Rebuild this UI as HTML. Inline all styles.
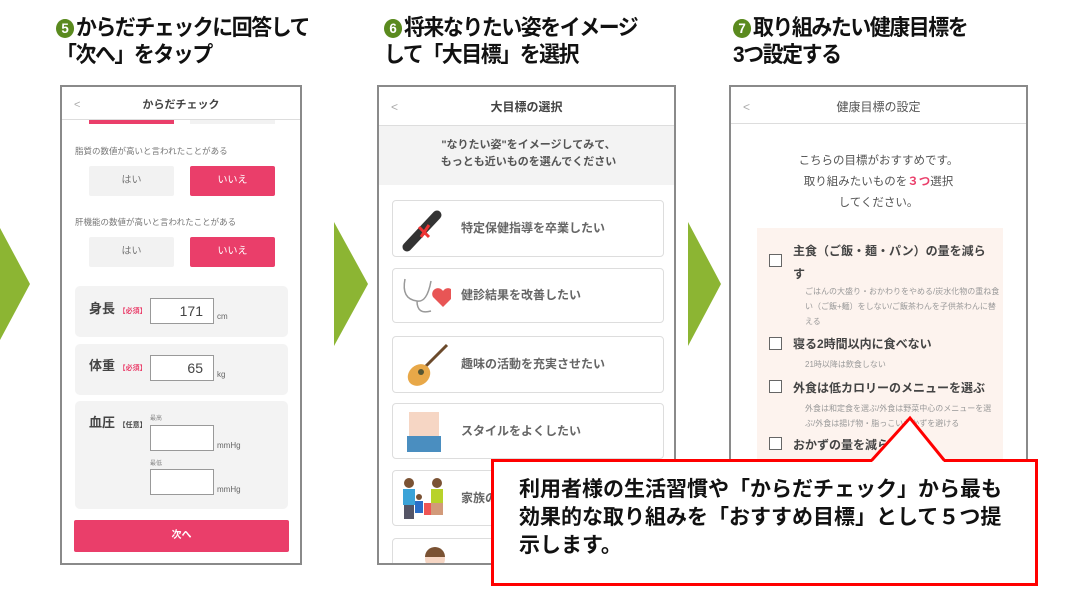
<!DOCTYPE html>
<html><head><meta charset="utf-8"><style>
*{margin:0;padding:0;box-sizing:border-box}
body{width:1075px;height:598px;background:#fff;position:relative;overflow:hidden;font-family:"Liberation Sans","Noto Sans CJK JP",sans-serif;color:#555}
.a{position:absolute}
.t{position:absolute;font-weight:bold;color:#111;font-size:22px;line-height:27px;letter-spacing:-1.5px;transform:scaleX(0.95);transform-origin:left}
.num{display:inline-block;width:19px;height:19px;border-radius:50%;background:#5a8a1e;color:#fff;font-size:14px;line-height:19px;text-align:center;letter-spacing:0;margin-right:2px;vertical-align:2px}
.ph{position:absolute;border:2px solid #8a8a8a;background:#fff;overflow:hidden}
.hd{position:absolute;left:0;right:0;top:0;border-bottom:1px solid #ddd;text-align:center;font-size:11px;color:#444;font-weight:bold}
.bk{position:absolute;left:12px;color:#aaa;font-weight:normal}
.btn{position:absolute;font-size:10px;text-align:center;border-radius:2px}
.g{background:#f2f2f2;color:#777}
.p{background:#ea3e6a;color:#fff}
.card{position:absolute;background:#f3f3f3;border-radius:5px}
.in{position:absolute;background:#fff;border:1px solid #999;font-size:14px;text-align:right;padding-right:10px;color:#444}
.gc{position:absolute;left:13px;width:272px;border:1.5px solid #ddd;border-radius:4px;background:#fff;font-size:12px;font-weight:bold;color:#666}
.gc span{position:absolute;left:68px}
.cb{position:absolute;width:13px;height:13px;border:1.5px solid #666;background:#fff}
.it{position:absolute;font-size:12px;font-weight:bold;color:#444}
.sm{position:absolute;font-size:8px;color:#999;line-height:15px}
</style></head><body>

<div class="t" style="left:56px;top:14px"><span class="num">5</span>からだチェックに回答して<br>「次へ」をタップ</div>
<div class="t" style="left:384px;top:14px"><span class="num">6</span>将来なりたい姿をイメージ<br>して「大目標」を選択</div>
<div class="t" style="left:733px;top:14px"><span class="num">7</span>取り組みたい健康目標を<br>3つ設定する</div>

<svg class="a" style="left:0;top:0" width="1075" height="598">
<polygon points="0,228 30,284 0,340" fill="#8cb533"/>
<polygon points="334,222 368,284 334,346" fill="#8cb533"/>
<polygon points="688,222 721,284 688,346" fill="#8cb533"/>
</svg>

<!-- phone 1 -->
<div class="ph" style="left:60px;top:85px;width:242px;height:480px">
 <div class="hd" style="height:33px;line-height:36px">からだチェック<span class="bk">&lt;</span></div>
 <div class="a p" style="left:27px;top:33px;width:85px;height:4px"></div>
 <div class="a g" style="left:128px;top:33px;width:85px;height:4px"></div>
 <div class="a" style="left:13px;top:58px;font-size:8.5px;color:#777">脂質の数値が高いと言われたことがある</div>
 <div class="btn g" style="left:27px;top:79px;width:85px;height:30px;line-height:30px">はい</div>
 <div class="btn p" style="left:128px;top:79px;width:85px;height:30px;line-height:30px">いいえ</div>
 <div class="a" style="left:13px;top:129px;font-size:8.5px;color:#777">肝機能の数値が高いと言われたことがある</div>
 <div class="btn g" style="left:27px;top:150px;width:85px;height:30px;line-height:30px">はい</div>
 <div class="btn p" style="left:128px;top:150px;width:85px;height:30px;line-height:30px">いいえ</div>
 <div class="card" style="left:13px;top:199px;width:213px;height:51px"></div>
 <div class="card" style="left:13px;top:257px;width:213px;height:51px"></div>
 <div class="card" style="left:13px;top:314px;width:213px;height:108px"></div>
 <div class="a" style="left:27px;top:211px;font-size:13px;font-weight:bold;color:#444">身長 <span style="font-size:7px;color:#ea3e6a">【必須】</span></div>
 <div class="in" style="left:88px;top:211px;width:64px;height:26px;line-height:24px">171</div>
 <div class="a" style="left:155px;top:225px;font-size:8px;color:#666">cm</div>
 <div class="a" style="left:27px;top:268px;font-size:13px;font-weight:bold;color:#444">体重 <span style="font-size:7px;color:#ea3e6a">【必須】</span></div>
 <div class="in" style="left:88px;top:268px;width:64px;height:26px;line-height:24px">65</div>
 <div class="a" style="left:155px;top:283px;font-size:8px;color:#666">kg</div>
 <div class="a" style="left:27px;top:325px;font-size:13px;font-weight:bold;color:#444">血圧 <span style="font-size:7px;color:#444">【任意】</span></div>
 <div class="a" style="left:88px;top:326px;font-size:6px;color:#888">最高</div>
 <div class="in" style="left:88px;top:338px;width:64px;height:26px"></div>
 <div class="a" style="left:155px;top:354px;font-size:8px;color:#666">mmHg</div>
 <div class="a" style="left:88px;top:371px;font-size:6px;color:#888">最低</div>
 <div class="in" style="left:88px;top:382px;width:64px;height:26px"></div>
 <div class="a" style="left:155px;top:398px;font-size:8px;color:#666">mmHg</div>
 <div class="btn p" style="left:12px;top:433px;width:215px;height:32px;line-height:32px;font-weight:bold">次へ</div>
</div>

<!-- phone 2 -->
<div class="ph" style="left:377px;top:85px;width:299px;height:480px">
 <div class="hd" style="height:39px;line-height:40px;font-size:12px">大目標の選択<span class="bk">&lt;</span></div>
 <div class="a" style="left:0;top:39px;width:299px;height:59px;background:#f3f3f3;text-align:center;font-size:11px;font-weight:bold;color:#555;line-height:17px;padding-top:11px">"なりたい姿"をイメージしてみて、<br>もっとも近いものを選んでください</div>
 <div class="gc" style="top:113px;height:57px;line-height:55px"><span>特定保健指導を卒業したい</span>
  <svg class="a" style="left:8px;top:6px" width="44" height="46"><line x1="6" y1="40" x2="36" y2="8" stroke="#333" stroke-width="9" stroke-linecap="round"/><path d="M18 20 l10 10 M28 18 l-8 12" stroke="#e33" stroke-width="3"/></svg></div>
 <div class="gc" style="top:181px;height:55px;line-height:53px"><span>健診結果を改善したい</span>
  <svg class="a" style="left:8px;top:8px" width="50" height="38"><path d="M4 2 q-4 20 12 22 q10 2 14 -20 M16 24 q0 14 14 10" stroke="#999" fill="none" stroke-width="1.5"/><path d="M42 30 l-10-10 a5 5 0 0 1 10-6 a5 5 0 0 1 10 6z" fill="#e85555"/></svg></div>
 <div class="gc" style="top:249px;height:57px;line-height:55px"><span>趣味の活動を充実させたい</span>
  <svg class="a" style="left:8px;top:4px" width="50" height="50"><line x1="24" y1="26" x2="46" y2="4" stroke="#6b4a2b" stroke-width="3"/><ellipse cx="18" cy="34" rx="12" ry="10" fill="#e8a848" transform="rotate(-40 18 34)"/><circle cx="20" cy="31" r="3" fill="#553"/></svg></div>
 <div class="gc" style="top:316px;height:56px;line-height:54px"><span>スタイルをよくしたい</span>
  <svg class="a" style="left:12px;top:6px" width="44" height="44"><rect x="4" y="2" width="30" height="26" fill="#f6d6c4"/><rect x="2" y="26" width="34" height="16" fill="#4a8ec0"/></svg></div>
 <div class="gc" style="top:383px;height:56px;line-height:54px"><span>家族の</span>
  <svg class="a" style="left:8px;top:4px" width="50" height="48"><circle cx="8" cy="8" r="5" fill="#7a5233"/><rect x="2" y="14" width="12" height="16" fill="#3ba3d8"/><rect x="3" y="30" width="10" height="14" fill="#556"/><circle cx="36" cy="8" r="5" fill="#7a5233"/><rect x="30" y="14" width="12" height="14" fill="#b8d22a"/><rect x="30" y="28" width="12" height="12" fill="#d29a7a"/><circle cx="18" cy="22" r="3" fill="#7a5233"/><rect x="14" y="26" width="8" height="12" fill="#2a6ec8"/><rect x="23" y="28" width="7" height="12" fill="#e55"/></svg></div>
 <div class="gc" style="top:451px;height:56px"><svg class="a" style="left:30px;top:6px" width="24" height="24"><circle cx="12" cy="14" r="10" fill="#f6d6c4"/><path d="M2 12 a10 10 0 0 1 20 0z" fill="#7a5233"/></svg></div>
</div>

<!-- phone 3 -->
<div class="ph" style="left:729px;top:85px;width:299px;height:480px">
 <div class="hd" style="height:37px;line-height:40px;font-size:12px;font-weight:normal;color:#555">健康目標の設定<span class="bk">&lt;</span></div>
 <div class="a" style="left:0;top:64px;width:295px;text-align:center;font-size:11.5px;color:#555;line-height:21px">こちらの目標がおすすめです。<br>取り組みたいものを<span style="color:#ea3e6a;font-weight:bold">３つ</span>選択<br>してください。</div>
 <div class="a" style="left:26px;top:141px;width:246px;height:340px;background:#fdf3ee"></div>
 <div class="cb" style="left:38px;top:167px"></div>
 <div class="it" style="left:62px;top:153px;line-height:23px;width:200px">主食（ご飯・麺・パン）の量を減ら<br>す</div>
 <div class="sm" style="left:74px;top:197px;width:196px">ごはんの大盛り・おかわりをやめる/炭水化物の重ね食い（ご飯+麺）をしない/ご飯茶わんを子供茶わんに替える</div>
 <div class="cb" style="left:38px;top:250px"></div>
 <div class="it" style="left:62px;top:248px">寝る2時間以内に食べない</div>
 <div class="sm" style="left:74px;top:270px">21時以降は飲食しない</div>
 <div class="cb" style="left:38px;top:293px"></div>
 <div class="it" style="left:62px;top:292px">外食は低カロリーのメニューを選ぶ</div>
 <div class="sm" style="left:74px;top:314px;width:196px">外食は和定食を選ぶ/外食は野菜中心のメニューを選ぶ/外食は揚げ物・脂っこいおかずを避ける</div>
 <div class="cb" style="left:38px;top:350px"></div>
 <div class="it" style="left:62px;top:349px">おかずの量を減らす</div>
</div>

<!-- callout -->
<svg class="a" style="left:0;top:0" width="1075" height="598">
<rect x="492.5" y="460.5" width="544" height="124" fill="#fff" stroke="#f00" stroke-width="3"/>
<polygon points="872,462 910,418 944,462" fill="#fff"/>
<polyline points="872,460 910,418 944,460" fill="none" stroke="#f00" stroke-width="3"/>
</svg>
<div class="a" style="left:519px;top:476px;font-size:21px;font-weight:bold;color:#111;line-height:28px;letter-spacing:0;white-space:nowrap">利用者様の生活習慣や「からだチェック」から最も<br>効果的な取り組みを「おすすめ目標」として５つ提<br>示します。</div>
</body></html>
